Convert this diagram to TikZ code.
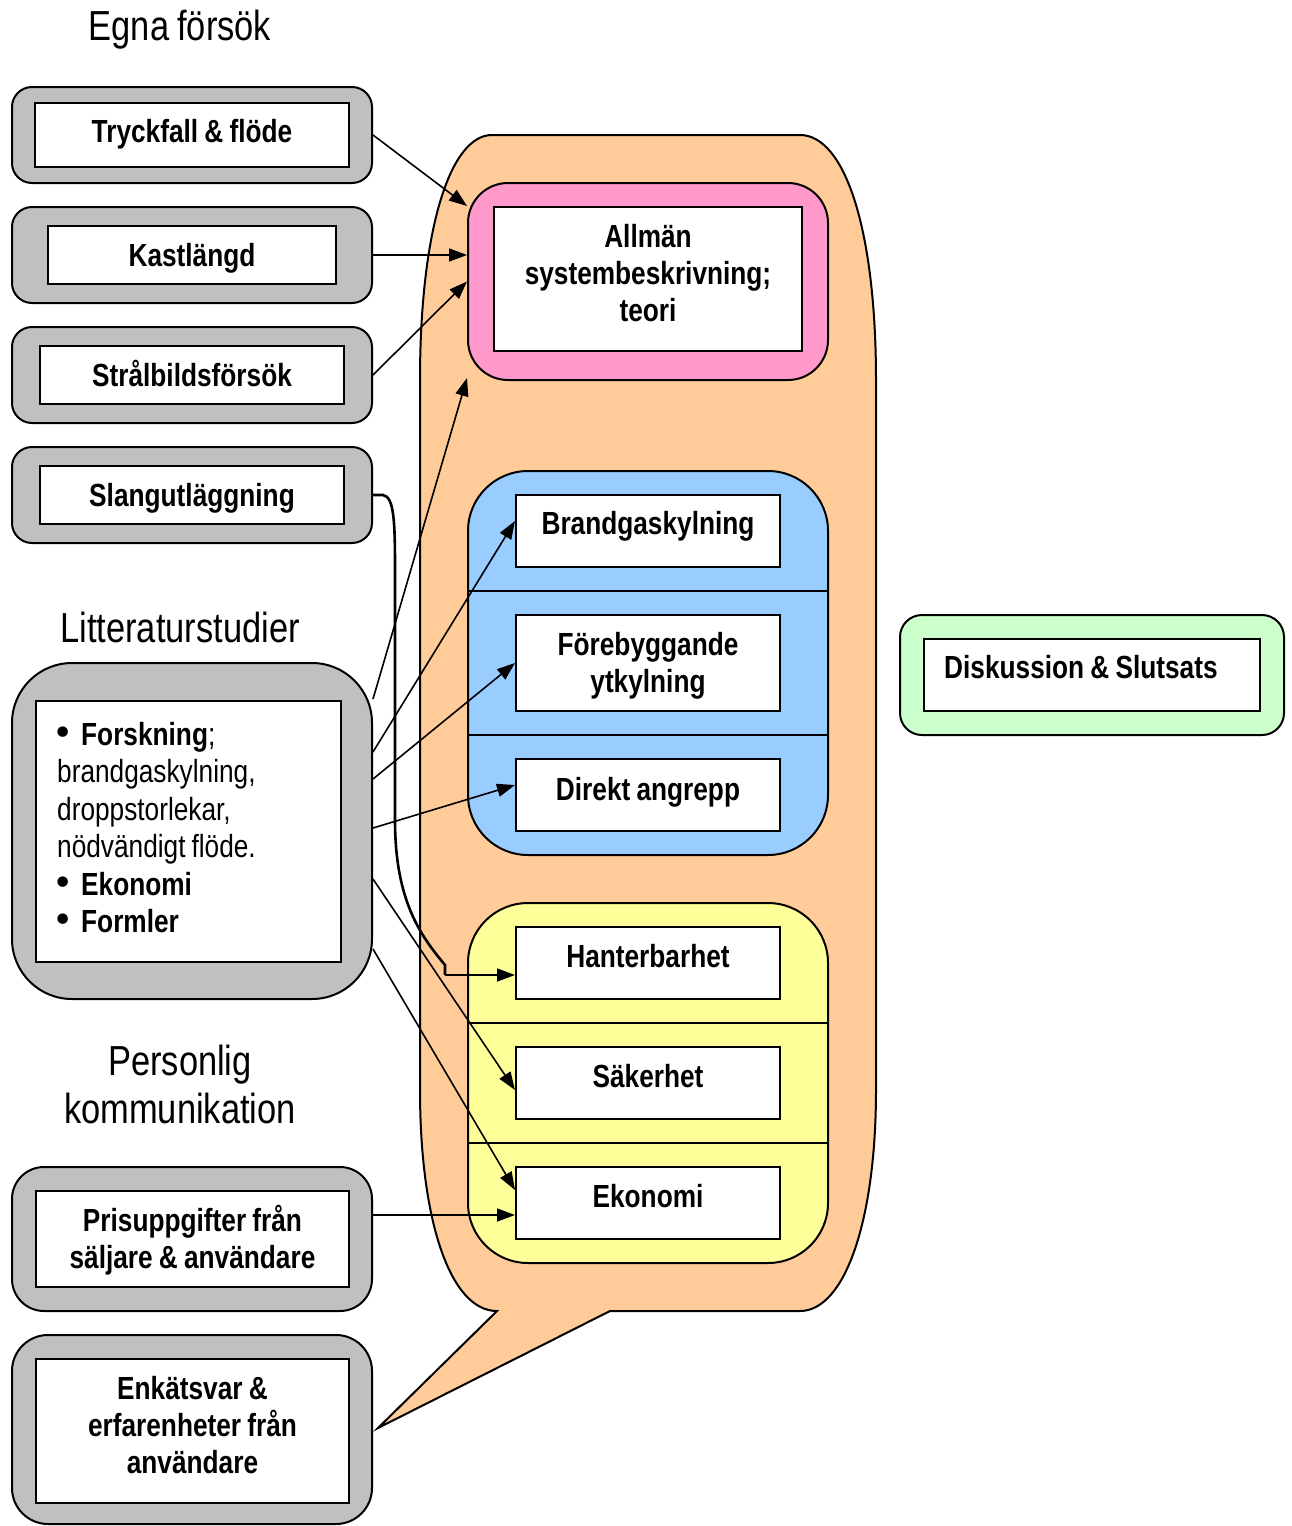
\documentclass[tikz,border=0pt]{standalone}
\usepackage{fontspec}
\setmainfont{Liberation Sans}[FakeStretch=0.82, WordSpace=0.85]
\newfontfamily\symfont{DejaVu Sans}
\usetikzlibrary{arrows.meta,calc}
\definecolor{grayfill}{HTML}{C0C0C0}
\definecolor{orangefill}{HTML}{FFCC99}
\definecolor{pinkfill}{HTML}{FF99CC}
\definecolor{bluefill}{HTML}{99CCFF}
\definecolor{yellowfill}{HTML}{FFFF99}
\definecolor{greenfill}{HTML}{CCFFCC}
\newcommand\myfl{\rule{0pt}{30pt}}
\newcommand\mybul{\makebox[24pt][l]{\hspace{-5pt}{\symfont\fontsize{36}{36}\selectfont •}}}
\begin{document}
\begin{tikzpicture}[x=1pt,y=-1pt,
  outerbox/.style={draw, line width=2pt, inner sep=0pt, rounded corners=20pt},
  graybox/.style={outerbox, fill=grayfill},
  innerbox/.style={draw, line width=2pt, fill=white, inner sep=0pt},
  boxtext/.style={anchor=north, inner sep=0pt, align=center,
    font=\fontsize{32}{36.8}\selectfont\bfseries},
  titletext/.style={font=\fontsize{42}{48}\selectfont, align=center},
  conn/.style={line width=1.6pt, -{Triangle[length=18pt,width=13pt]}},
  divider/.style={line width=2pt}
]
\useasboundingbox (0,0) rectangle (1292,1526);

% titles
\node[titletext] (t1) at (180,30) {Egna försök};
\node[titletext] (t2) at (180,627) {Litteraturstudier};
\node[titletext] (t3) at (180,1084) {Personlig\\kommunikation};

% left gray boxes
\node[graybox, minimum width=360, minimum height=96] (tryO) at (192,135) {};
\node[innerbox, minimum width=314, minimum height=64] (tryI) at (192,135) {};
\node[boxtext] (tryT) at ($(tryI.north)+(0,10.5)$) {\myfl Tryckfall \& flöde};
\node[graybox, minimum width=360, minimum height=96] (kastO) at (192,255) {};
\node[innerbox, minimum width=288, minimum height=58] (kastI) at (192,255) {};
\node[boxtext] (kastT) at ($(kastI.north)+(0,11.5)$) {\myfl Kastlängd};
\node[graybox, minimum width=360, minimum height=96] (straO) at (192,375) {};
\node[innerbox, minimum width=304, minimum height=58] (straI) at (192,375) {};
\node[boxtext] (straT) at ($(straI.north)+(0,11.5)$) {\myfl Strålbildsförsök};
\node[graybox, minimum width=360, minimum height=96] (slangO) at (192,495) {};
\node[innerbox, minimum width=304, minimum height=58] (slangI) at (192,495) {};
\node[boxtext] (slangT) at ($(slangI.north)+(0,11.5)$) {\myfl Slangutläggning};

\node[graybox, rounded corners=60pt, minimum width=360, minimum height=336] (litO) at (192,831) {};
\node[innerbox, minimum width=305, minimum height=261] (litI) at (188.5,831.5) {};
\node[anchor=north west, inner sep=0pt, align=left, text width=280,
  font=\fontsize{32}{37.5}\selectfont] (litT) at (57,715)
  {\myfl\mybul\textbf{Forskning};\\brandgaskylning,\\droppstorlekar,\\nödvändigt\hspace{6pt}flöde.\\\mybul\textbf{Ekonomi}\\\mybul\textbf{Formler}};

\node[graybox, rounded corners=32pt, minimum width=360, minimum height=144] (prisO) at (192,1239) {};
\node[innerbox, minimum width=313, minimum height=96] (prisI) at (192.5,1239) {};
\node[boxtext] (prisT) at ($(prisI.north)+(0,11.5)$) {\myfl Prisuppgifter från\\säljare \& användare};
\node[graybox, rounded corners=36pt, minimum width=360, minimum height=189] (enkO) at (192,1429.5) {};
\node[innerbox, minimum width=313, minimum height=144] (enkI) at (192.5,1431) {};
\node[boxtext] (enkT) at ($(enkI.north)+(0,11.5)$) {\myfl Enkätsvar \&\\erfarenheter från\\användare};

% callout
\draw[line width=2pt, fill=orangefill]
  (497,1311) -- (378,1428) -- (610,1311) -- (800,1311)
  .. controls (845,1311) and (876,1220) .. (876,1090)
  -- (876,380)
  .. controls (876,230) and (845,135) .. (800,135)
  -- (492,135)
  .. controls (450,135) and (420,230) .. (420,380)
  -- (420,1090)
  .. controls (420,1220) and (450,1311) .. (497,1311) -- cycle;

% pink
\node[outerbox, fill=pinkfill, rounded corners=40pt, minimum width=360, minimum height=197] (pinkO) at (648,281.5) {};
\node[innerbox, minimum width=308, minimum height=144] (pinkI) at (648,279) {};
\node[boxtext] (pinkT) at ($(pinkI.north)+(0,11.5)$) {\myfl Allmän\\systembeskrivning;\\teori};

% blue
\node[outerbox, fill=bluefill, rounded corners=60pt, minimum width=360, minimum height=384] (blueO) at (648,663) {};
\node[innerbox, minimum width=264, minimum height=72] (bgk) at (648,531) {};
\node[boxtext] (bgkT) at ($(bgk.north)+(0,10.5)$) {\myfl Brandgaskylning};
\node[innerbox, minimum width=264, minimum height=96] (foy) at (648,663) {};
\node[boxtext] (foyT) at ($(foy.north)+(0,11.5)$) {\myfl Förebyggande\\ytkylning};
\node[innerbox, minimum width=264, minimum height=72] (dir) at (648,795) {};
\node[boxtext] (dirT) at ($(dir.north)+(0,12.5)$) {\myfl Direkt angrepp};
\coordinate (bd1) at ($(bgk.south)!0.5!(foy.north)$);
\coordinate (bd2) at ($(foy.south)!0.5!(dir.north)$);
\draw[divider] (blueO.west |- bd1) -- (blueO.east |- bd1);
\draw[divider] (blueO.west |- bd2) -- (blueO.east |- bd2);

% yellow
\node[outerbox, fill=yellowfill, rounded corners=60pt, minimum width=360, minimum height=360] (yelO) at (648,1083) {};
\node[innerbox, minimum width=264, minimum height=72] (han) at (648,963) {};
\node[boxtext] (hanT) at ($(han.north)+(0,11.5)$) {\myfl Hanterbarhet};
\node[innerbox, minimum width=264, minimum height=72] (sak) at (648,1083) {};
\node[boxtext] (sakT) at ($(sak.north)+(0,11.5)$) {\myfl Säkerhet};
\node[innerbox, minimum width=264, minimum height=72] (eko) at (648,1203) {};
\node[boxtext] (ekoT) at ($(eko.north)+(0,11.5)$) {\myfl Ekonomi};
\coordinate (yd1) at ($(han.south)!0.5!(sak.north)$);
\coordinate (yd2) at ($(sak.south)!0.5!(eko.north)$);
\draw[divider] (yelO.west |- yd1) -- (yelO.east |- yd1);
\draw[divider] (yelO.west |- yd2) -- (yelO.east |- yd2);

% green
\node[outerbox, fill=greenfill, rounded corners=22pt, minimum width=384, minimum height=120] (grO) at (1092,675) {};
\node[innerbox, minimum width=336, minimum height=72] (grI) at (1092,675) {};
\node[boxtext, anchor=north west] (grT) at ($(grI.north west)+(21,10.5)$) {\myfl Diskussion \& Slutsats};

% connectors
\draw[conn] (tryO.east) -- ($(pinkO.north west)+(0,24)$);
\draw[conn] (kastO.east) -- (kastO.east -| pinkO.west);
\draw[conn] (straO.east) -- (pinkO.west);
\draw[conn] ($(litO.north east)+(0,37)$) -- ($(pinkO.south west)+(0,-3)$);
\draw[conn] ($(litO.north east)+(0,90)$) -- ($(bgk.west)+(0,-10)$);
\draw[conn] ($(litO.north east)+(0,117)$) -- (foy.west);
\draw[conn] ($(litO.north east)+(0,166)$) -- ($(dir.west)+(0,-10)$);
\draw[conn] ($(litO.north east)+(0,217)$) -- ($(sak.west)+(0,7)$);
\draw[conn] ($(litO.north east)+(0,287)$) -- ($(eko.west)+(0,-13)$);
\draw[conn] ($(prisO.east)+(0,-24)$) -- ($(eko.west)+(0,12)$);

\coordinate (hk) at (445,975);
\draw[line width=2.6pt] (slangO.east) -- (383,495)
  .. controls (394,497) and (395,520) .. (395,570)
  -- (395,820) .. controls (395,900) and (420,935) .. (445,965) -- (hk);
\draw[conn] (hk) -- ($(han.west)+(0,12)$);
\end{tikzpicture}
\end{document}
